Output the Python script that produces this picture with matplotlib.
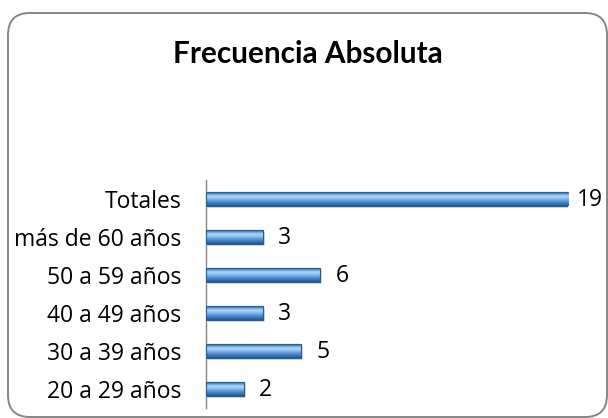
import matplotlib
matplotlib.use("Agg")
import matplotlib.pyplot as plt
import numpy as np
from matplotlib.patches import FancyBboxPatch
from matplotlib.colors import LinearSegmentedColormap

categories = ["20 a 29 años", "30 a 39 años", "40 a 49 años", "50 a 59 años", "más de 60 años", "Totales"]
values = [2, 5, 3, 6, 3, 19]
title = "Frecuencia Absoluta"

plt.rcParams['font.family'] = ['Lato', 'DejaVu Sans']
label_font = ['Open Sans', 'DejaVu Sans']

fig = plt.figure(figsize=(6.08, 4.18), dpi=100)
fig.patch.set_facecolor("white")

# rounded border (extends to right/bottom edges as in the reference)
border = FancyBboxPatch((8/608, 1/418), 599/608, 404/418,
                        boxstyle="round,pad=0,rounding_size=0.036",
                        transform=fig.transFigure, facecolor="none",
                        edgecolor="#868686", linewidth=1.4, mutation_aspect=608/418,
                        zorder=-1)
fig.patches.append(border)

fig.text(308/608, 1 - 54/418, title, ha="center", va="center",
         fontsize=21.4, fontweight="bold", color="black")

ax = fig.add_axes([206/608, 1 - 408/418, (568 - 206)/608, 228/418])
ax.set_facecolor("none")
y = np.arange(len(categories))

# soft shadow
ax.barh(y - 0.06, values, height=0.36, left=0.1, color="#9a9a9a", alpha=0.3, linewidth=0, zorder=1)

bars = ax.barh(y, values, height=0.37, color="#4f8fd0", edgecolor="#2b5d94", linewidth=0.8, zorder=2)

cmap = LinearSegmentedColormap.from_list("bev", ["#24548a", "#3a78bc", "#5a98da", "#8dc0f0", "#b3d7f7", "#4f8fd2", "#2a5c95"])
grad = np.linspace(0, 1, 64).reshape(-1, 1)
for b in bars:
    x0, y0 = b.get_x(), b.get_y()
    w, h = b.get_width(), b.get_height()
    im = ax.imshow(grad, cmap=cmap, aspect="auto", extent=(x0, x0 + w, y0, y0 + h),
                   origin="lower", zorder=3)
    im.set_clip_path(b)
    ax.barh(b.get_y() + h / 2, w, height=h, fill=False, edgecolor="#2b5d94", linewidth=0.8, zorder=4)

for yi, v in zip(y, values):
    ax.annotate(str(v), xy=(v, yi), xytext=(15.5, -1), textcoords="offset points",
                va="center", ha="center", fontsize=16.5, color="black",
                family=label_font, annotation_clip=False)

ax.set_xlim(0, 19)
ax.set_ylim(-0.5, len(categories) - 0.5)
ax.set_yticks(y)
ax.set_yticklabels(categories, fontsize=16.5, family=label_font)
ax.tick_params(axis="y", length=0, pad=18)
ax.set_xticks([])
for s in ["top", "right", "bottom"]:
    ax.spines[s].set_visible(False)
ax.spines["left"].set_color("#868686")
ax.spines["left"].set_linewidth(1.0)

fig.savefig("out.png", dpi=100)
